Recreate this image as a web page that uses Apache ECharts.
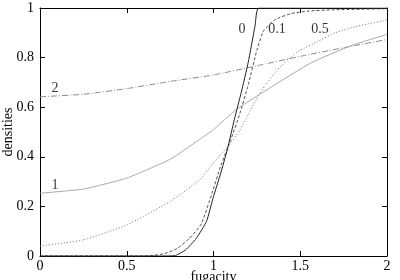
<!DOCTYPE html>
<html>
<head>
<meta charset="utf-8">
<script src="https://cdn.jsdelivr.net/npm/echarts@6/dist/echarts.min.js"></script>
<style>
html,body{margin:0;padding:0;background:#fff;}
#chart{width:400px;height:280px;}
</style>
</head>
<body>
<div id="chart"></div>
<script>
// curves: [fugacity, density]
var curve0 = [[0,0],[0.7,0],[0.78,0.002],[0.84,0.025],[0.9,0.07],[0.96,0.14],[1.0,0.24],[1.04,0.33],[1.08,0.43],[1.12,0.55],[1.16,0.66],[1.2,0.78],[1.24,0.93],[1.26,1.0],[2,1.0]];
var curve01 = [[0,0],[0.6,0],[0.65,0.002],[0.72,0.01],[0.79,0.03],[0.86,0.07],[0.93,0.13],[0.99,0.25],[1.04,0.36],[1.1,0.47],[1.15,0.57],[1.2,0.69],[1.25,0.83],[1.29,0.91],[1.36,0.955],[1.45,0.978],[1.55,0.988],[1.7,0.993],[2,0.997]];
var curve05 = [[0,0.04],[0.25,0.065],[0.5,0.125],[0.75,0.22],[0.92,0.307],[1.0,0.375],[1.08,0.44],[1.15,0.505],[1.2,0.57],[1.25,0.635],[1.3,0.69],[1.38,0.76],[1.45,0.805],[1.5,0.83],[1.6,0.865],[1.7,0.9],[1.85,0.93],[2,0.951]];
var curve1 = [[0,0.253],[0.25,0.27],[0.5,0.314],[0.75,0.39],[0.92,0.47],[1.0,0.51],[1.13,0.59],[1.33,0.68],[1.56,0.778],[1.8,0.85],[2,0.893]];
var curve2 = [[0,0.642],[0.25,0.652],[0.5,0.675],[0.75,0.704],[1.0,0.73],[1.25,0.767],[1.5,0.805],[1.75,0.84],[2,0.873]];
var curveNames = ['0','0.1','0.5','1','2'];
var labelSpots = [[1.164,0.913],[1.366,0.913],[1.614,0.913],[0.086,0.283],[0.086,0.675]];

var font = 'Liberation Serif';
var myChart = echarts.init(document.getElementById('chart'));

function mkLine(data, color, type){
    return {
        type: 'line',
        data: data,
        showSymbol: false,
        smooth: 0.15,
        clip: true,
        lineStyle: {color: color, width: 1, type: type},
        silent: true
    };
}
function tick(){
    return {show: true, inside: true, length: 5, lineStyle: {color: '#000'}};
}
function line(){
    return {show: true, onZero: false, lineStyle: {color: '#000'}};
}

var option = {
    animation: false,
    grid: {left: 40, right: 13, top: 8, bottom: 24, containLabel: false, outerBoundsMode: 'none'},
    xAxis: [{
        type: 'value', min: 0, max: 2, interval: 0.5,
        name: 'fugacity', nameLocation: 'middle', nameGap: 14, nameMoveOverlap: false,
        nameTextStyle: {fontFamily: font, fontSize: 14, color: '#000'},
        axisLine: line(),
        axisTick: tick(),
        splitLine: {show: false},
        axisLabel: {fontFamily: font, fontSize: 14, color: '#000', margin: 3}
    },{
        type: 'value', min: 0, max: 2, interval: 0.5, position: 'top',
        axisLine: line(),
        axisTick: tick(), axisLabel: {show: false}, splitLine: {show: false}
    }],
    yAxis: [{
        type: 'value', min: 0, max: 1, interval: 0.2,
        name: 'densities', nameLocation: 'middle', nameGap: 25, nameMoveOverlap: false,
        nameTextStyle: {fontFamily: font, fontSize: 14, color: '#000'},
        axisLine: line(),
        axisTick: tick(),
        splitLine: {show: false},
        axisLabel: {fontFamily: font, fontSize: 14, color: '#000', margin: 6,
            formatter: function(v){ return String(+v.toFixed(1)); }}
    },{
        type: 'value', min: 0, max: 1, interval: 0.2, position: 'right',
        axisLine: line(),
        axisTick: tick(), axisLabel: {show: false}, splitLine: {show: false}
    }],
    series: [
        mkLine(curve2, '#8a8a8a', [6,2,1,2]),
        mkLine(curve1, '#a8a8a8', 'solid'),
        mkLine(curve05, '#707070', [1,2]),
        mkLine(curve01, '#505050', [3,2]),
        mkLine(curve0, '#222', 'solid'),
        {
            type: 'scatter',
            symbolSize: 0,
            silent: true,
            data: labelSpots.map(function(p, i){ return {value: p, name: curveNames[i]}; }),
            label: {show: true, position: 'inside', formatter: '{b}',
                fontFamily: font, fontSize: 14, color: '#000'}
        }
    ]
};
myChart.setOption(option);
</script>
</body>
</html>
